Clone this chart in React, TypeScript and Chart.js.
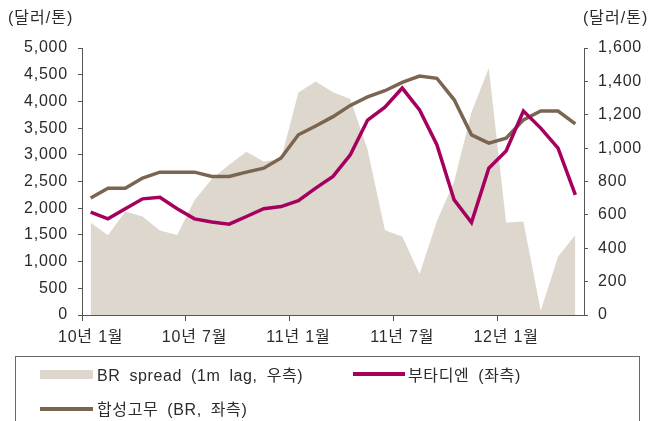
import React, { useEffect, useRef } from 'react';
import { Chart, registerables } from 'chart.js';

Chart.register(...registerables);

const categories = [
  '10년 1월', '10년 2월', '10년 3월', '10년 4월', '10년 5월', '10년 6월',
  '10년 7월', '10년 8월', '10년 9월', '10년 10월', '10년 11월', '10년 12월',
  '11년 1월', '11년 2월', '11년 3월', '11년 4월', '11년 5월', '11년 6월',
  '11년 7월', '11년 8월', '11년 9월', '11년 10월', '11년 11월', '11년 12월',
  '12년 1월', '12년 2월', '12년 3월', '12년 4월', '12년 5월',
];

const tickLabels = ['10년 1월', '10년 7월', '11년 1월', '11년 7월', '12년 1월'];

// 부타디엔 (좌축, 달러/톤)
const butadiene = [
  1925, 1800, 1990, 2175, 2205, 1990, 1800, 1740, 1700, 1845, 1990, 2030,
  2140, 2375, 2595, 3000, 3650, 3890, 4250, 3840, 3190, 2155, 1730, 2750,
  3070, 3820, 3500, 3125, 2250,
];

// 합성고무 BR (좌축, 달러/톤)
const brRubber = [
  2190, 2375, 2375, 2565, 2675, 2675, 2675, 2595, 2595, 2675, 2750, 2940,
  3375, 3540, 3715, 3925, 4085, 4200, 4355, 4475, 4433, 4030, 3373, 3218,
  3310, 3654, 3820, 3820, 3578,
];

// BR spread (1m lag, 우축, 달러/톤)
const brSpread = [
  553, 478, 620, 590, 506, 480, 688, 815, 900, 978, 920, 935,
  1334, 1400, 1335, 1295, 990, 508, 470, 246, 562, 800, 1215, 1480,
  555, 560, 25, 350, 480,
];

const leftTicks = { min: 0, max: 5000, step: 500 };
const rightTicks = { min: 0, max: 1600, step: 200 };

const FONT = '"Liberation Sans", "Noto Sans CJK KR", sans-serif';
const TEXT = '#2b2b2b';
const AXIS = '#555555';
const C_AREA = '#ddd7ce';
const C_BUTA = '#a6005f';
const C_BR = '#7a6550';

const spacingPlugin = {
  id: 'letterSpacing',
  beforeDraw(chart: any) {
    chart.ctx.save();
    try {
      chart.ctx.letterSpacing = '0.8px';
    } catch (e) {
      /* ignore */
    }
  },
  afterDraw(chart: any) {
    chart.ctx.restore();
  },
};

export default function App() {
  const ref = useRef<HTMLCanvasElement | null>(null);

  useEffect(() => {
    if (!ref.current) return;
    const chart = new Chart(ref.current, {
      type: 'line',
      plugins: [spacingPlugin],
      data: {
        labels: categories,
        datasets: [
          {
            label: '부타디엔 (좌측)',
            data: butadiene,
            yAxisID: 'y',
            borderColor: C_BUTA,
            borderWidth: 3.5,
            pointRadius: 0,
            tension: 0,
            fill: false,
            order: 1,
          },
          {
            label: '합성고무 (BR, 좌측)',
            data: brRubber,
            yAxisID: 'y',
            borderColor: C_BR,
            borderWidth: 3.5,
            pointRadius: 0,
            tension: 0,
            fill: false,
            order: 2,
          },
          {
            label: 'BR spread (1m lag, 우측)',
            data: brSpread,
            yAxisID: 'y1',
            borderColor: C_AREA,
            borderWidth: 0,
            backgroundColor: C_AREA,
            pointRadius: 0,
            tension: 0,
            fill: 'origin',
            order: 3,
          },
        ],
      },
      options: {
        responsive: false,
        animation: false,
        devicePixelRatio: 1,
        layout: { padding: { top: 48, left: 0, right: 0, bottom: 0 } },
        plugins: {
          legend: { display: false },
          tooltip: { enabled: false },
        },
        scales: {
          x: {
            type: 'category',
            offset: true,
            grid: {
              display: true,
              offset: true,
              drawOnChartArea: false,
              drawTicks: true,
              tickLength: 6,
              tickColor: (ctx: any) => (ctx.index % 6 === 0 ? AXIS : 'rgba(0,0,0,0)'),
            },
            border: { display: true, color: AXIS, width: 1 },
            ticks: {
              autoSkip: false,
              maxRotation: 0,
              minRotation: 0,
              padding: 7,
              color: TEXT,
              font: { family: FONT, size: 16 },
              callback: (_v: any, i: number) =>
                tickLabels.includes(categories[i]) ? categories[i] : '',
            },
            afterFit: (s: any) => {
              s.height = 106;
            },
          },
          y: {
            position: 'left',
            min: leftTicks.min,
            max: leftTicks.max,
            grid: {
              drawOnChartArea: false,
              drawTicks: true,
              tickLength: 4,
              tickColor: AXIS,
            },
            border: { display: true, color: AXIS, width: 1 },
            ticks: {
              stepSize: leftTicks.step,
              padding: 10,
              color: TEXT,
              font: { family: FONT, size: 16 },
              callback: (v: any) => Number(v).toLocaleString('en-US'),
            },
            afterFit: (s: any) => {
              s.width = 82;
            },
          },
          y1: {
            position: 'right',
            min: rightTicks.min,
            max: rightTicks.max,
            grid: {
              drawOnChartArea: false,
              drawTicks: true,
              tickLength: 4,
              tickColor: AXIS,
            },
            border: { display: true, color: AXIS, width: 1 },
            ticks: {
              stepSize: rightTicks.step,
              padding: 10,
              color: TEXT,
              font: { family: FONT, size: 16 },
              callback: (v: any) => Number(v).toLocaleString('en-US'),
            },
            afterFit: (s: any) => {
              s.width = 75;
            },
          },
        },
      },
    });
    return () => chart.destroy();
  }, []);

  const textStyle: React.CSSProperties = {
    position: 'absolute',
    fontFamily: FONT,
    fontSize: 16,
    color: TEXT,
    whiteSpace: 'pre',
    lineHeight: '20px',
    letterSpacing: '0.6px',
    wordSpacing: '4px',
  };

  const titleStyle: React.CSSProperties = { ...textStyle, letterSpacing: '1px' };

  return (
    <div
      style={{
        position: 'fixed',
        left: 0,
        top: 0,
        width: 659,
        height: 421,
        overflow: 'hidden',
        background: '#ffffff',
      }}
    >
      <canvas ref={ref} width={659} height={421} style={{ position: 'absolute', left: 0, top: 0 }} />
      <span style={{ ...titleStyle, left: 8, top: 8 }}>(달러/톤)</span>
      <span style={{ ...titleStyle, left: 583, top: 8 }}>(달러/톤)</span>
      <div
        style={{
          position: 'absolute',
          left: 15,
          top: 356,
          width: 625,
          height: 80,
          border: '1px solid #6a6a6a',
          boxSizing: 'border-box',
        }}
      />
      <div style={{ position: 'absolute', left: 40, top: 370, width: 53, height: 9, background: C_AREA }} />
      <span style={{ ...textStyle, left: 97, top: 366 }}>BR spread (1m lag, 우측)</span>
      <div style={{ position: 'absolute', left: 353, top: 372, width: 52, height: 4, background: C_BUTA }} />
      <span style={{ ...textStyle, left: 408, top: 366 }}>부타디엔 (좌측)</span>
      <div style={{ position: 'absolute', left: 40, top: 407, width: 53, height: 4, background: C_BR }} />
      <span style={{ ...textStyle, left: 97, top: 400 }}>합성고무 (BR, 좌측)</span>
    </div>
  );
}
